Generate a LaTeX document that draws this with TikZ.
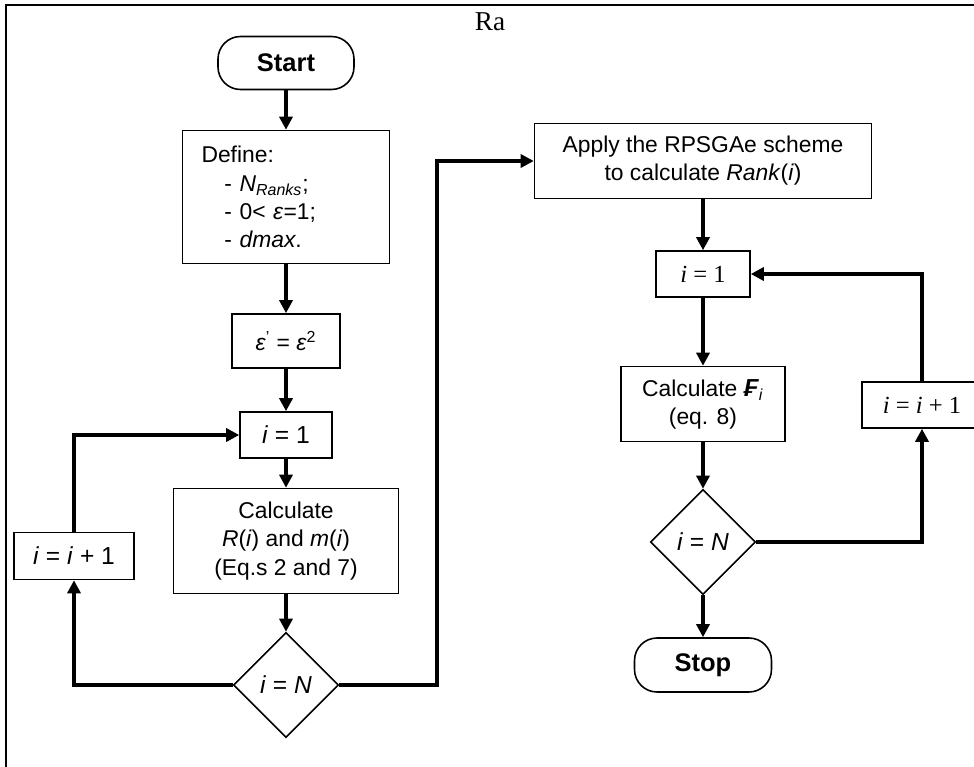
\documentclass[tikz,border=0pt]{standalone}
\usepackage{fontspec}
\setmainfont{Liberation Sans}
\newfontfamily\timesfont{Liberation Serif}
\usetikzlibrary{shapes.geometric,arrows.meta}

\tikzset{
  box/.style={draw, line width=0.9pt, inner sep=0pt, align=center,
    font=\fontsize{13}{16}\selectfont},
  term/.style={box, rounded corners=0.45cm, font=\fontsize{14.5}{16}\selectfont\bfseries},
  decision/.style={box, diamond, aspect=1, minimum size=2.1cm, font=\fontsize{14}{16}\selectfont},
  flow/.style={line width=2.6pt, -{Triangle[length=7.5pt,width=7.5pt]}},
  timesbox/.style={box, font=\timesfont\fontsize{14}{16}\selectfont},
}

\begin{document}
\begin{tikzpicture}[x=0.02cm, y=-0.02cm]
  \clip (0,0) rectangle (974,767);
  % Rahmen
  \draw[line width=1.5pt] (974,5) -| (6,767);
  \node[font=\timesfont\fontsize{15.5}{16}\selectfont] (title) at (490,22) {Ra};
  % Linke Spalte
  \node[term, minimum width=2.72cm, minimum height=1.06cm] (start) at (286,63) {Start};
  \node[box, text width=3.38cm, inner xsep=0.38cm, minimum height=2.66cm, align=left] (define) at (286,197)
    {Define:\\
     \hspace*{13pt}- \textit{N}\textsubscript{\textit{Ranks}};\\
     \hspace*{13pt}- 0< \textit{ε}=1;\\
     \hspace*{13pt}- \textit{dmax}.};
  \node[box, minimum width=2.16cm, minimum height=1.08cm] (eps) at (286,341)
    {\textit{ε}\textsuperscript{’} = \textit{ε}\textsuperscript{2}};
  \node[box, minimum width=1.84cm, minimum height=0.92cm, font=\fontsize{14}{16}\selectfont] (seta) at (286,435)
    {\textit{i} = 1};
  \node[box, minimum width=4.5cm, minimum height=2.1cm] (calc) at (286,541)
    {Calculate\\\textit{R}(\textit{i}) and \textit{m}(\textit{i})\\(Eq.s 2 and 7)};
  \node[decision] (deca) at (286,685) {\textit{i} = \textit{N}};
  \node[box, minimum width=2.4cm, minimum height=0.94cm, font=\fontsize{14}{16}\selectfont] (inca) at (74,556)
    {\textit{i} = \textit{i} + 1};
  % Rechte Spalte
  \node[box, minimum width=6.74cm, minimum height=1.5cm] (apply) at (703,161)
    {Apply the RPSGAe scheme\\to calculate \textit{Rank}(\textit{i})};
  \node[timesbox, minimum width=1.88cm, minimum height=0.92cm] (setb) at (703,274) {\textit{i} = 1};
  \node[box, minimum width=3.28cm, minimum height=1.5cm] (calcf) at (703,404)
    {Calculate {\fontsize{14}{16}\selectfont\textbf{\textit{₣}}}\textsubscript{\textit{i}}\\(eq. 8)};
  \node[decision] (decb) at (703,542) {\textit{i} = \textit{N}};
  \node[term, minimum width=2.74cm, minimum height=1.08cm] (stop) at (703,665) {Stop};
  \node[timesbox, minimum width=2.4cm, minimum height=0.92cm] (incb) at (922,405) {\textit{i} = \textit{i} + 1};
  \coordinate (jump) at (437,685);
  % Verbindungen links
  \draw[flow] (start) -- (define);
  \draw[flow] (define) -- (eps);
  \draw[flow] (eps) -- (seta);
  \draw[flow] (seta) -- (calc);
  \draw[flow] (calc) -- (deca);
  \draw[flow] (deca.west) -| (inca.south);
  \draw[flow] (inca.north) |- (seta.west);
  \draw[flow] (deca.east) -- (jump) |- (apply.west);
  % Verbindungen rechts
  \draw[flow] (apply) -- (setb);
  \draw[flow] (setb) -- (calcf);
  \draw[flow] (calcf) -- (decb);
  \draw[flow] (decb) -- (stop);
  \draw[flow] (decb.east) -| (incb.south);
  \draw[flow] (incb.north) |- (setb.east);
\end{tikzpicture}
\end{document}
